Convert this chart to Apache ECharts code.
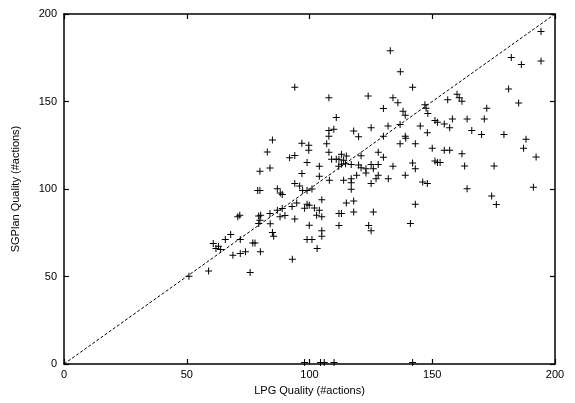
<!DOCTYPE html>
<html>
<head>
<meta charset="utf-8">
<script src="https://cdn.jsdelivr.net/npm/echarts@6/dist/echarts.min.js"></script>
<style>html,body{margin:0;padding:0;background:#fff;}#c{width:575px;height:403px;}</style>
</head>
<body>
<div id="c"></div>
<script>
// LPG quality (x) and SGPlan quality (y), one entry per problem
var lpg = [94.0,84.9,82.8,79.8,83.9,91.9,94.0,96.9,99.7,99.7,99.0,96.9,78.9,79.8,86.9,88.1,88.9,94.0,96.0,97.2,99.0,
  70.8,71.6,79.3,80.1,79.8,79.3,83.9,84.0,86.9,88.9,88.0,90.0,92.9,94.8,94.0,98.0,99.0,99.9,99.0,93.0,84.9,85.4,80.0,76.9,77.8,71.8,73.9,71.8,68.8,75.8,67.9,65.7,60.8,62.9,61.9,63.8,58.9,50.9,
  132.9,137.0,142.0,107.9,123.9,134.0,136.0,130.1,138.1,139.0,147.0,147.5,148.2,110.9,107.9,109.9,107.9,118.0,120.0,125.1,132.0,136.9,145.1,148.0,130.1,139.0,139.2,136.9,143.1,
  107.0,107.9,109.0,110.9,112.0,113.0,115.0,113.9,121.0,128.0,130.1,111.9,113.0,114.7,117.0,120.0,121.0,123.0,125.1,126.0,128.0,134.0,142.0,143.1,104.0,
  123.0,119.2,117.0,117.0,113.9,117.0,128.0,127.1,125.1,132.1,139.0,146.1,148.0,143.1,141.1,101.0,105.0,99.9,102.0,104.0,102.9,105.0,105.0,105.0,101.0,103.1,115.0,118.0,118.0,112.0,113.0,112.0,126.0,124.1,125.1,104.0,108.1,
  194.3,194.3,182.2,186.3,181.1,185.2,160.1,161.0,162.1,156.3,172.2,151.1,152.1,154.9,158.2,164.2,171.2,157.1,166.1,170.1,179.2,188.2,187.2,192.3,150.0,154.9,157.1,162.1,151.1,152.1,153.2,163.2,175.2,
  164.2,174.2,191.2,176.1,
  98.0,104.5,106.0,110.0,142.0];
var sgplan = [158.1,128.0,121.1,110.1,112.0,117.9,119.1,126.1,125.0,122.1,115.1,108.8,99.1,99.1,100.2,97.7,96.8,103.1,101.7,99.1,99.1,
  84.2,85.0,84.6,85.0,82.2,80.3,86.0,80.1,87.9,88.8,84.1,84.8,90.0,92.0,82.9,89.0,91.3,79.3,71.2,59.9,75.1,73.0,64.1,69.2,69.2,71.2,64.1,63.2,62.2,52.3,74.0,71.2,68.9,67.3,66.0,65.4,53.1,50.2,
  179.0,167.0,158.1,152.2,153.1,152.2,149.3,146.0,144.4,142.1,148.1,146.1,143.1,140.9,133.5,134.1,130.1,133.1,129.9,135.0,136.0,136.8,136.0,132.2,130.1,130.1,129.0,125.9,125.9,
  125.9,121.0,117.0,117.0,117.0,119.8,118.9,116.4,119.0,121.0,118.1,113.0,114.1,114.5,114.0,113.7,112.2,111.6,114.0,111.6,114.0,113.0,114.9,111.6,113.0,
  109.1,107.8,105.9,103.6,105.0,99.9,107.8,105.9,103.1,105.9,107.8,104.0,103.1,91.3,80.3,100.0,93.9,90.7,89.2,87.9,85.0,84.1,76.1,73.0,71.2,66.0,92.0,93.2,86.9,86.0,86.0,79.1,86.9,79.1,76.1,107.3,105.0,
  190.0,173.1,175.2,171.2,157.1,149.1,154.2,152.1,150.2,151.0,146.1,139.2,138.1,137.1,140.0,140.0,140.0,135.0,133.4,131.1,131.1,128.4,123.3,118.3,123.3,122.1,122.1,120.2,116.0,115.1,115.1,113.2,113.2,
  100.2,96.0,101.0,91.1,
  0.8,0.8,0.8,0.8,0.8];
var diagX = [0, 200];
var diagY = [0, 200];
var ticks = [0, 50, 100, 150, 200];

var points = lpg.map(function (x, i) { return [x, sgplan[i]]; });
var diag = diagX.map(function (x, i) { return [x, diagY[i]]; });

var font = 'Liberation Sans, Arial, Helvetica, sans-serif';
var plus = 'path://M0,3L3,3L3,0L4,0L4,3L7,3L7,4L4,4L4,7L3,7L3,4L0,4Z';

function axisBase(extra) {
  var a = {
    type: 'value', min: ticks[0], max: ticks[ticks.length - 1], interval: ticks[1] - ticks[0],
    axisLine: { show: true, onZero: false, lineStyle: { color: '#000', width: 1.5 } },
    axisTick: { show: true, inside: true, length: 5, lineStyle: { color: '#000', width: 1.2 } },
    splitLine: { show: false },
    axisLabel: { show: true, color: '#000', fontSize: 11, fontFamily: font }
  };
  for (var k in extra) a[k] = extra[k];
  return a;
}

var chart = echarts.init(document.getElementById('c'), null, { renderer: 'canvas' });
chart.setOption({
  animation: false,
  backgroundColor: '#fff',
  grid: { left: 64, right: 20, top: 14, bottom: 39, containLabel: false },
  xAxis: [
    axisBase({ position: 'bottom', name: 'LPG Quality (#actions)', nameLocation: 'middle', nameGap: 21,
      nameTextStyle: { color: '#000', fontSize: 11, fontFamily: font },
      axisLabel: { show: true, color: '#000', fontSize: 11, fontFamily: font, margin: 5 } }),
    axisBase({ position: 'top', axisLabel: { show: false } })
  ],
  yAxis: [
    axisBase({ position: 'left', name: 'SGPlan Quality (#actions)', nameLocation: 'middle', nameGap: 43,
      nameTextStyle: { color: '#000', fontSize: 11, fontFamily: font },
      axisLabel: { show: true, color: '#000', fontSize: 11, fontFamily: font, margin: 7 } }),
    axisBase({ position: 'right', axisLabel: { show: false } })
  ],
  series: [
    {
      type: 'line', data: diag, xAxisIndex: 0, yAxisIndex: 0, symbol: 'none', silent: true,
      lineStyle: { color: '#000', width: 1, type: [3, 2] }, z: 1
    },
    {
      type: 'scatter', data: points, xAxisIndex: 0, yAxisIndex: 0,
      symbol: plus, symbolSize: 7, itemStyle: { color: '#000', opacity: 1 }, z: 2
    }
  ]
});
</script>
</body>
</html>
